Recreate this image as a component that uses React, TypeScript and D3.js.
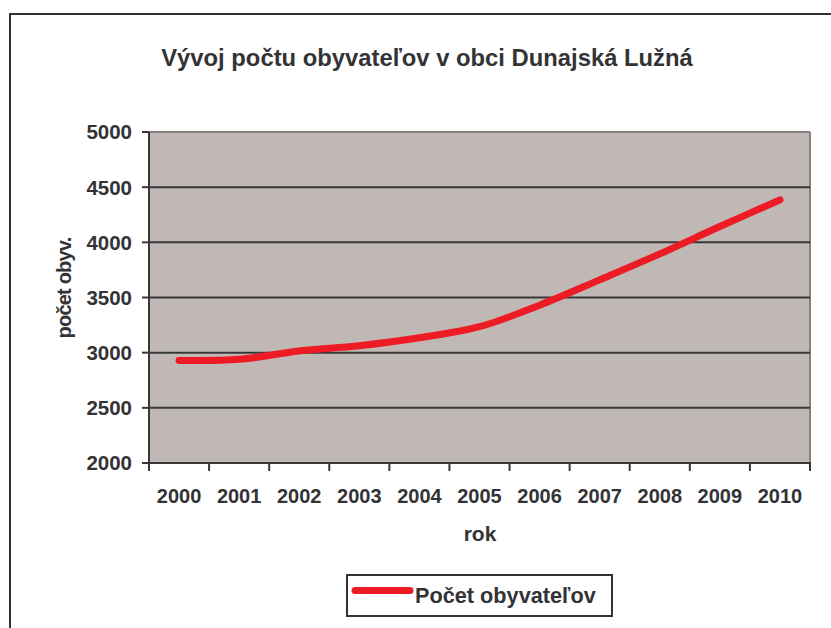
import React from "react";
import * as d3 from "d3";

const years = ["2000", "2001", "2002", "2003", "2004", "2005", "2006", "2007", "2008", "2009", "2010"];
const population = [2930, 2940, 3015, 3063, 3135, 3235, 3430, 3660, 3895, 4143, 4385];
const yTicks = [2000, 2500, 3000, 3500, 4000, 4500, 5000];

const title = "Vývoj počtu obyvateľov v obci Dunajská Lužná";
const yTitle = "počet obyv.";
const xTitle = "rok";
const seriesName = "Počet obyvateľov";

export default function App() {
  const W = 831, H = 628;
  const left = 149, right = 810, top = 132, bottom = 463;
  const x = d3.scaleBand<string>().domain(years).range([left, right]).paddingInner(0).paddingOuter(0);
  const y = d3.scaleLinear().domain([2000, 5000]).range([bottom, top]);
  const pts: [number, number][] = years.map((yr, i) => [x(yr)! + x.bandwidth() / 2, y(population[i])]);
  const line = d3.line().curve(d3.curveCatmullRom.alpha(0.5))(pts) || "";
  const font = "'Liberation Sans', Arial, sans-serif";
  const txt = "#333336";
  const boundaries = years.map((yr) => x(yr)!).concat([right]);

  return (
    <svg width={W} height={H} style={{ position: "absolute", left: 0, top: 0 }} fontFamily={font}>
      <rect x={0} y={0} width={W} height={H} fill="#fff" />
      <rect x={10} y={14} width={W + 20} height={H + 20} fill="none" stroke="#333" strokeWidth={2} />
      <text x={427} y={66} textAnchor="middle" fontSize={23.8} fontWeight="bold" fill={txt}>{title}</text>
      <rect x={left} y={top} width={right - left} height={bottom - top} fill="#c0b8b5" />
      <line x1={left} x2={right} y1={top} y2={top} stroke="#8a7f7c" strokeWidth={2} />
      <line x1={right} x2={right} y1={top} y2={bottom} stroke="#8a7f7c" strokeWidth={2} />
      {yTicks.map((t) => (
        <g key={t}>
          {t !== 2000 && t !== 5000 && (
            <line x1={left} x2={right} y1={y(t)} y2={y(t)} stroke="#38383b" strokeWidth={2} />
          )}
          <line x1={142} x2={left} y1={y(t)} y2={y(t)} stroke="#38383b" strokeWidth={2} />
          <text x={132} y={y(t)} dy="0.36em" textAnchor="end" fontSize={20.5} fontWeight="bold" fill={txt}>{t}</text>
        </g>
      ))}
      {boundaries.map((bx, i) => (
        <line key={i} x1={bx} x2={bx} y1={bottom} y2={471} stroke="#38383b" strokeWidth={2} />
      ))}
      <line x1={left} x2={left} y1={top} y2={bottom + 1} stroke="#38383b" strokeWidth={2} />
      <line x1={left - 1} x2={right + 1} y1={bottom} y2={bottom} stroke="#38383b" strokeWidth={2} />
      {years.map((yr) => (
        <text key={yr} x={x(yr)! + x.bandwidth() / 2} y={503} textAnchor="middle" fontSize={20} fontWeight="bold" fill={txt}>{yr}</text>
      ))}
      <path d={line} fill="none" stroke="#ed1c24" strokeWidth={7} strokeLinecap="round" strokeLinejoin="round" />
      <text x={480} y={541} textAnchor="middle" fontSize={21} fontWeight="bold" fill={txt}>{xTitle}</text>
      <text transform={`translate(71,288) rotate(-90)`} textAnchor="middle" fontSize={20} letterSpacing={-0.8} fontWeight="bold" fill={txt}>{yTitle}</text>
      <rect x={347} y={575} width={265} height={41} fill="#fff" stroke="#333" strokeWidth={2} />
      <line x1={355} x2={410} y1={590.5} y2={590.5} stroke="#ed1c24" strokeWidth={7} strokeLinecap="round" />
      <text x={415} y={603} fontSize={21.7} fontWeight="bold" fill={txt}>{seriesName}</text>
    </svg>
  );
}
